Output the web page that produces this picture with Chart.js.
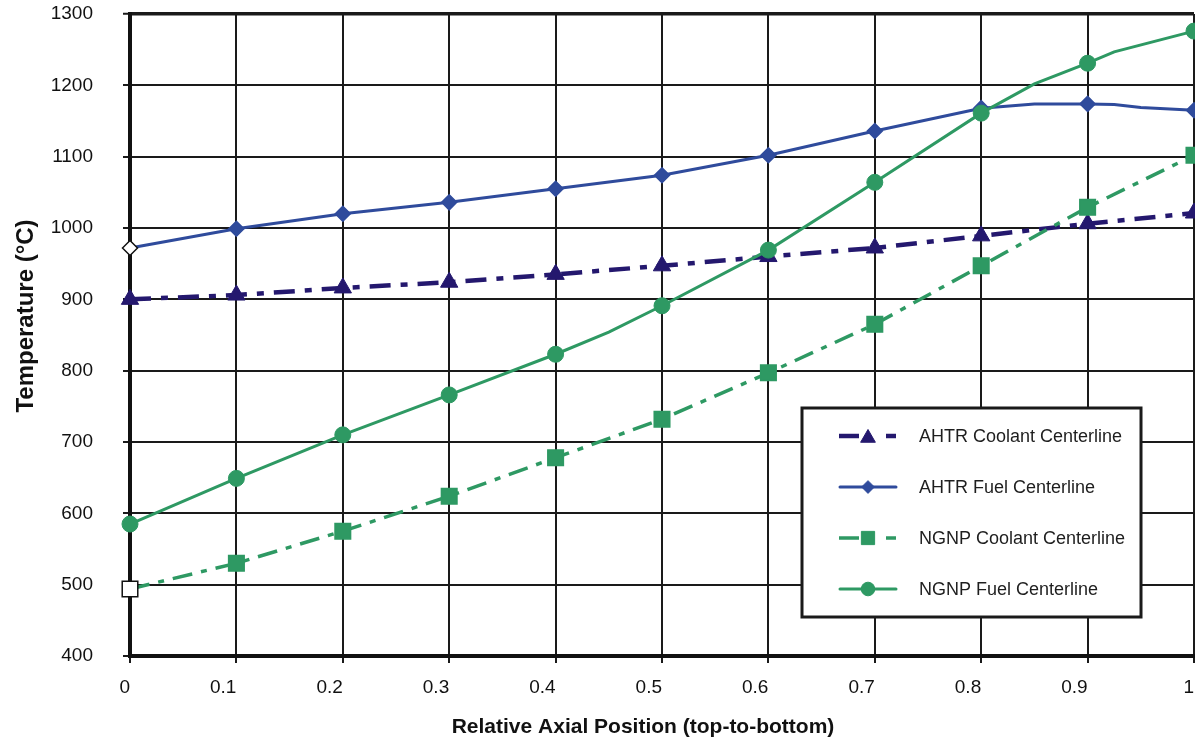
<!DOCTYPE html>
<html>
<head>
<meta charset="utf-8">
<script src="https://cdn.jsdelivr.net/npm/chart.js@4.4.1/dist/chart.umd.min.js"></script>
<style>
html,body{margin:0;padding:0;background:#ffffff;}
#wrap{width:1195px;height:742px;position:relative;}
</style>
</head>
<body>
<div id="wrap"><canvas id="c"></canvas></div>
<script>
// ---------- data ----------
const xTickValues = [0, 0.1, 0.2, 0.3, 0.4, 0.5, 0.6, 0.7, 0.8, 0.9, 1];
const xTickLabels = ['0', '0.1', '0.2', '0.3', '0.4', '0.5', '0.6', '0.7', '0.8', '0.9', '1'];
const yTickLabels = ['400', '500', '600', '700', '800', '900', '1000', '1100', '1200', '1300'];
const xTitle = 'Relative Axial Position (top-to-bottom)';
const yTitle = 'Temperature (°C)';
const seriesNames = ['AHTR Coolant Centerline', 'AHTR Fuel Centerline', 'NGNP Coolant Centerline', 'NGNP Fuel Centerline'];

const ahtrCoolantX = [0, 0.1, 0.2, 0.3, 0.4, 0.5, 0.6, 0.7, 0.8, 0.9, 1.0];
const ahtrCoolantY = [900, 906, 916, 924, 935, 947, 960, 972, 989, 1006, 1021];

const ahtrFuelX = [0, 0.1, 0.2, 0.3, 0.4, 0.5, 0.6, 0.7, 0.8, 0.85, 0.9, 0.925, 0.95, 1.0];
const ahtrFuelY = [972, 999, 1020, 1036, 1055, 1074, 1102, 1136, 1168, 1174, 1174, 1173, 1169, 1165];

const ngnpCoolantX = [0, 0.1, 0.2, 0.3, 0.4, 0.5, 0.6, 0.7, 0.8, 0.9, 1.0];
const ngnpCoolantY = [494, 530, 575, 624, 678, 732, 797, 865, 947, 1029, 1102];

const ngnpFuelX = [0, 0.1, 0.2, 0.3, 0.4, 0.45, 0.5, 0.6, 0.7, 0.8, 0.85, 0.9, 0.925, 1.0];
const ngnpFuelY = [585, 649, 710, 766, 823, 854, 891, 969, 1064, 1161, 1202, 1231, 1247, 1276];

// ---------- helpers ----------
const FONT = '"Liberation Sans", Arial, Helvetica, sans-serif';
const NAVY = '#24186e';
const BLUE = '#2f4b9c';
const GREEN = '#2e9963';
const GRID = '#1a1a1a';

function pts(xs, ys) { return xs.map((x, i) => ({ x: x, y: ys[i] })); }
function isMarker(x) { return Math.abs(x * 10 - Math.round(x * 10)) < 1e-6; }
function radiusFn(r) { return ctx => (ctx.raw && isMarker(ctx.raw.x)) ? r : 0; }
function fillFn(color, hollowFirst) {
  return ctx => (hollowFirst && ctx.dataIndex === 0) ? '#ffffff' : color;
}
function borderFn(color, hollowFirst) {
  return ctx => (hollowFirst && ctx.dataIndex === 0) ? '#111111' : color;
}

const datasets = [
  {
    label: seriesNames[0], data: pts(ahtrCoolantX, ahtrCoolantY),
    borderColor: NAVY, backgroundColor: NAVY, borderWidth: 4.5, borderDash: [21, 10, 7, 10],
    pointStyle: 'triangle', pointRadius: radiusFn(10), pointBorderWidth: 1,
    pointBackgroundColor: NAVY, pointBorderColor: NAVY, order: 3, legendRadius: 10
  },
  {
    label: seriesNames[1], data: pts(ahtrFuelX, ahtrFuelY),
    borderColor: BLUE, backgroundColor: BLUE, borderWidth: 3,
    pointStyle: 'rectRot', pointRadius: radiusFn(7.5), pointBorderWidth: 1.5,
    pointBackgroundColor: fillFn(BLUE, true), pointBorderColor: borderFn(BLUE, true), order: 2, legendRadius: 7.5
  },
  {
    label: seriesNames[2], data: pts(ngnpCoolantX, ngnpCoolantY),
    borderColor: GREEN, backgroundColor: GREEN, borderWidth: 3.5, borderDash: [20, 9, 6, 9],
    pointStyle: 'rect', pointRadius: radiusFn(11), pointBorderWidth: 1.5,
    pointBackgroundColor: fillFn(GREEN, true), pointBorderColor: borderFn(GREEN, true), order: 1, legendRadius: 11
  },
  {
    label: seriesNames[3], data: pts(ngnpFuelX, ngnpFuelY),
    borderColor: GREEN, backgroundColor: GREEN, borderWidth: 3,
    pointStyle: 'circle', pointRadius: radiusFn(8), pointBorderWidth: 1,
    pointBackgroundColor: GREEN, pointBorderColor: GREEN, order: 0, legendRadius: 8
  }
];

// ---------- custom plugins ----------
function drawMarker(ctx, style, r, x, y, fill, stroke) {
  ctx.save();
  ctx.fillStyle = fill; ctx.strokeStyle = stroke; ctx.lineWidth = 1; ctx.setLineDash([]);
  ctx.beginPath();
  if (style === 'triangle') {
    const c = Math.cos(Math.PI / 6) * r, s = Math.sin(Math.PI / 6) * r;
    ctx.moveTo(x, y - r); ctx.lineTo(x + c, y + s); ctx.lineTo(x - c, y + s); ctx.closePath();
  } else if (style === 'rectRot') {
    ctx.moveTo(x - r, y); ctx.lineTo(x, y - r); ctx.lineTo(x + r, y); ctx.lineTo(x, y + r); ctx.closePath();
  } else if (style === 'rect') {
    const h = Math.SQRT1_2 * r; ctx.rect(x - h, y - h, 2 * h, 2 * h);
  } else {
    ctx.arc(x, y, r, 0, Math.PI * 2);
  }
  ctx.fill(); ctx.stroke();
  ctx.restore();
}

const boxLegend = {
  id: 'boxLegend',
  afterDraw(chart) {
    const ctx = chart.ctx;
    const bx = 802, by = 408, bw = 339, bh = 209;
    ctx.save();
    ctx.fillStyle = '#ffffff';
    ctx.fillRect(bx, by, bw, bh);
    ctx.lineWidth = 3; ctx.strokeStyle = '#1a1a1a';
    ctx.strokeRect(bx, by, bw, bh);
    const rows = [436, 487, 538, 589];
    chart.data.datasets.forEach((ds, i) => {
      const y = rows[i];
      ctx.save();
      ctx.strokeStyle = ds.borderColor; ctx.lineWidth = ds.borderWidth; ctx.lineCap = 'round';
      if (ds.borderDash) {
        ctx.lineCap = 'butt';
        ctx.setLineDash([]);
        ctx.beginPath(); ctx.moveTo(839, y); ctx.lineTo(859, y); ctx.stroke();
        ctx.beginPath(); ctx.moveTo(886, y); ctx.lineTo(896, y); ctx.stroke();
      } else {
        ctx.setLineDash([]);
        ctx.beginPath(); ctx.moveTo(840, y); ctx.lineTo(896, y); ctx.stroke();
      }
      ctx.restore();
      const r = ds.legendRadius * 0.85;
      drawMarker(ctx, ds.pointStyle, r, 868, y + (ds.pointStyle === 'triangle' ? 2 : 0), ds.backgroundColor, ds.backgroundColor);
      ctx.fillStyle = '#1e1e1e';
      ctx.font = '18px ' + FONT;
      ctx.textBaseline = 'middle'; ctx.textAlign = 'left';
      ctx.fillText(ds.label, 919, y + 1);
    });
    ctx.restore();
  }
};

const axisTitles = {
  id: 'axisTitles',
  afterDraw(chart) {
    const ctx = chart.ctx;
    ctx.save();
    ctx.fillStyle = '#111111';
    ctx.textAlign = 'center'; ctx.textBaseline = 'middle';
    ctx.font = 'bold 21px ' + FONT;
    ctx.fillText(xTitle, 643, 727);
    ctx.translate(26, 316);
    ctx.rotate(-Math.PI / 2);
    ctx.font = 'bold 24px ' + FONT;
    ctx.fillText(yTitle, 0, 0);
    ctx.restore();
  }
};

// ---------- chart ----------
new Chart(document.getElementById('c'), {
  type: 'line',
  data: { datasets: datasets },
  plugins: [boxLegend, axisTitles],
  options: {
    responsive: true,
    maintainAspectRatio: false,
    animation: false,
    clip: false,
    layout: { autoPadding: false, padding: { top: 14, right: 1, left: 0, bottom: 0 } },
    plugins: { legend: { display: false }, tooltip: { enabled: false } },
    elements: { line: { tension: 0 } },
    scales: {
      x: {
        type: 'linear', min: 0, max: 1,
        afterBuildTicks: s => { s.ticks = xTickValues.map(v => ({ value: v })); },
        afterFit: s => { s.height = 86; s.paddingLeft = 0; s.paddingRight = 0; },
        ticks: {
          callback: (v, i) => xTickLabels[i],
          font: { family: FONT, size: 19 }, color: '#111111',
          align: 'end', maxRotation: 0, autoSkip: false, padding: 13
        },
        grid: { color: GRID, lineWidth: 2, tickLength: 7, tickWidth: 2, tickColor: GRID },
        border: { display: true, color: '#111111', width: 4 }
      },
      y: {
        type: 'linear', min: 400, max: 1300,
        afterBuildTicks: s => { s.ticks = yTickLabels.map(t => ({ value: Number(t) })); },
        afterFit: s => { s.width = 130; s.paddingTop = 0; s.paddingBottom = 0; },
        ticks: {
          callback: (v, i) => yTickLabels[i],
          font: { family: FONT, size: 19 }, color: '#111111', padding: 30
        },
        grid: {
          color: GRID,
          lineWidth: ctx => (ctx.tick && ctx.tick.value === 1300) ? 3.5 : 2,
          tickLength: 7, tickWidth: 2, tickColor: GRID
        },
        border: { display: true, color: '#111111', width: 4 }
      }
    }
  }
});
</script>
</body>
</html>
